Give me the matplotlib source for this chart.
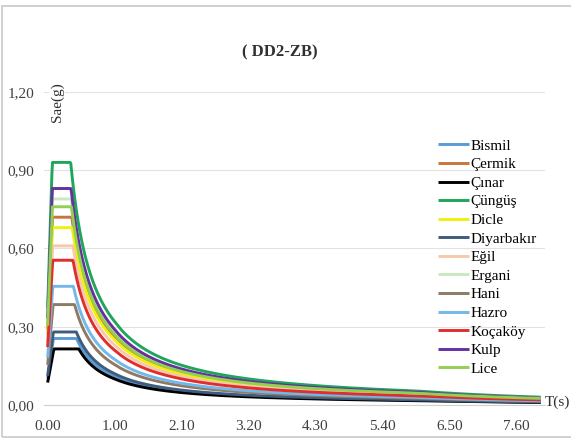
import matplotlib
matplotlib.use("Agg")
import matplotlib.pyplot as plt
from matplotlib.patches import Rectangle
import numpy as np

plt.rcParams['font.family'] = ['Liberation Serif', 'DejaVu Serif']

# ilçeler ve tasarım spektral ivme katsayıları (DD2, ZB)
districts = ['Bismil', 'Çermik', 'Çınar', 'Çüngüş', 'Dicle', 'Diyarbakır', 'Eğil',
             'Ergani', 'Hani', 'Hazro', 'Koçaköy', 'Kulp', 'Lice']
SDS = [0.255, 0.72, 0.215, 0.93, 0.68, 0.28, 0.61, 0.79, 0.385, 0.455, 0.555, 0.83, 0.76]
SD1 = [0.110, 0.26, 0.100, 0.32, 0.25, 0.12, 0.23, 0.28, 0.155, 0.175, 0.210, 0.29, 0.27]
colors = ['#5B9BD5', '#C8743C', '#000000', '#1FA65A', '#F2EE10', '#3E5C7E', '#F6C9AA',
          '#C8EAC2', '#8F7A66', '#72B8EA', '#E02E2E', '#6530A0', '#93CF52']
TL = 6.0

# periyot kategorileri (Excel kategori ekseni gibi)
T = np.concatenate([np.linspace(0, 1.0, 111), np.round(np.arange(1.01, 8.001, 0.01), 2)])
idx = np.arange(len(T))


def sae(T, sds, sd1):
    TB = sd1 / sds
    TA = 0.2 * TB
    out = np.empty_like(T)
    for i, t in enumerate(T):
        if t < TA:
            out[i] = (0.4 + 0.6 * t / TA) * sds
        elif t <= TB:
            out[i] = sds
        elif t <= TL:
            out[i] = sd1 / t
        else:
            out[i] = sd1 * TL / t ** 2
    return out


fig = plt.figure(figsize=(5.71, 4.41), dpi=100)
ax = fig.add_axes([44 / 571, 1 - 405 / 441, (545 - 44) / 571, (405 - 92) / 441])

for name, s, d, c in zip(districts, SDS, SD1, colors):
    ax.plot(idx + 3, sae(T, s, d), color=c, lw=2.1, label=name, solid_capstyle='butt')

ax.set_xlim(-3, 820)
ax.set_ylim(0, 1.2)
ticks = list(range(0, 771, 110))
ax.set_xticks([t + 3 for t in ticks])
ax.set_xticklabels(['%.2f' % T[i] for i in ticks])
ax.set_yticks([0, 0.3, 0.6, 0.9, 1.2])
ax.set_yticklabels(['0,00', '0,30', '0,60', '0,90', '1,20'])
ax.tick_params(length=0, labelsize=11, colors='#404040')
ax.tick_params(axis='x', pad=11)
ax.tick_params(axis='y', pad=7)
ax.grid(axis='y', color='#E2E2E2', lw=0.8)
ax.set_axisbelow(True)
for sp in ['top', 'right', 'left']:
    ax.spines[sp].set_visible(False)
ax.spines['bottom'].set_color('#D0D0D0')

leg = ax.legend(loc='upper left', bbox_to_anchor=(438 / 571, 1 - 139 / 441),
                bbox_transform=fig.transFigure, frameon=False, fontsize=11,
                handlelength=2.0, handletextpad=0.1, labelspacing=0.32,
                borderaxespad=0, borderpad=0)

fig.text(280 / 571, 1 - 52 / 441, '( DD2-ZB)', ha='center', va='center',
         fontsize=12, fontweight='bold', color='#303030')
fig.text(57 / 571, 1 - 102 / 441, 'Sae(g)', rotation=90, ha='center', va='center',
         fontsize=11, color='#303030',
         bbox=dict(facecolor='white', edgecolor='none', pad=1))
fig.text(557 / 571, 1 - 402 / 441, 'T(s)', ha='center', va='center',
         fontsize=11, color='#303030')

# çerçeve
fig.patches.append(Rectangle((2 / 571, 1 - 437 / 441), 1.0, (437 - 6) / 441,
                             transform=fig.transFigure, fill=False,
                             edgecolor='#C8C8C8', lw=1.2))

fig.savefig('out.png', dpi=100)
